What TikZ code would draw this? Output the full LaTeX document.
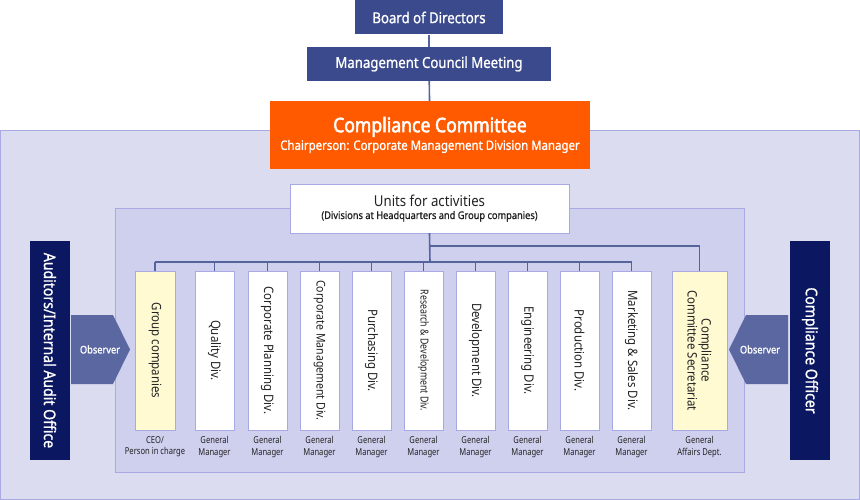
\documentclass[tikz,border=0pt]{standalone}
\usepackage{fontspec}
\setmainfont{Noto Sans}[FakeStretch=0.88]
\usetikzlibrary{positioning}
\definecolor{navy}{HTML}{0C1762}
\definecolor{hdr}{HTML}{3B4A8C}
\definecolor{orng}{HTML}{FF5A00}
\definecolor{outerbg}{HTML}{DCDCF1}
\definecolor{innerbg}{HTML}{CFCFEE}
\definecolor{bdr}{HTML}{A9A9E4}
\definecolor{pale}{HTML}{FFFAD2}
\definecolor{obsfill}{HTML}{5A67A0}
\definecolor{wire}{HTML}{56649E}
\definecolor{ink}{HTML}{222222}
\newcommand{\semib}{\addfontfeature{FakeBold=1}}
\newcommand{\heavy}{\addfontfeature{FakeBold=2.5}}

\tikzset{
  topbox/.style={fill=hdr, text=white, font=\fontsize{15}{17}\selectfont\semib, inner sep=0, minimum height=34},
  colbox/.style={draw=bdr, fill=white, rotate=-90, minimum width=159, minimum height=39, inner sep=0, text=ink, font=\fontsize{13}{14}\selectfont},
  sidebox/.style={fill=navy, text=white, rotate=-90, minimum width=219, minimum height=40, inner sep=0, font=\fontsize{16}{18}\selectfont\semib},
  sub/.style={anchor=north, align=center, text=ink, inner sep=0, font=\fontsize{9.5}{11.5}\selectfont\addfontfeature{FakeStretch=0.8}},
  wirel/.style={draw=wire, line width=1.6pt},
  obs/.style={fill=obsfill},
}

\begin{document}
\begin{tikzpicture}[x=1pt,y=-1pt]
  \useasboundingbox (0,0) rectangle (860,500);
  % frames
  \filldraw[fill=outerbg, draw=bdr] (0.5,130) rectangle (859.5,499.5);
  \filldraw[fill=innerbg, draw=bdr] (115,208) rectangle (744,472);

  % top of the chart
  \node[topbox, minimum width=148] (board) at (429,17.5) {Board of Directors};
  \node[topbox, minimum width=244] (mcm) at (429,64) {Management Council Meeting};
  \node[fill=orng, text=white, minimum width=320, minimum height=68, inner sep=0, align=center] (cc) at (430,135)
    {{\fontsize{20}{24}\selectfont\heavy Compliance Committee}\\[2pt]
     {\fontsize{13}{15}\selectfont\semib Chairperson: Corporate Management Division Manager}};
  \node[draw=bdr, fill=white, minimum width=279, minimum height=49, inner sep=0, align=center, text=ink] (units) at (429.5,208.5)
    {{\fontsize{15}{17}\selectfont Units for activities}\\
     {\fontsize{10.5}{12}\selectfont\semib (Divisions at Headquarters and Group companies)}};

  % divisions
  \node[colbox, fill=pale, minimum height=40] (gc) at (155,350.5) {Group companies};
  \node[colbox] (qd) at (214.5,350.5) {Quality Div.};
  \node[colbox] (cp) at (267.5,350.5) {Corporate Planning Div.};
  \node[colbox, font=\fontsize{12}{13}\selectfont] (cm) at (319.5,350.5) {Corporate Management Div.};
  \node[colbox] (pu) at (371.5,350.5) {Purchasing Div.};
  \node[colbox, font=\fontsize{11}{12}\selectfont\addfontfeature{FakeStretch=0.8}] (rd) at (423.5,350.5) {Research \& Development Div.};
  \node[colbox] (dv) at (475.5,350.5) {Development Div.};
  \node[colbox] (en) at (527.5,350.5) {Engineering Div.};
  \node[colbox] (pr) at (579.5,350.5) {Production Div.};
  \node[colbox] (mk) at (631.5,350.5) {Marketing \& Sales Div.};
  \node[colbox, fill=pale, minimum height=55, align=center] (sec) at (699.5,350.5) {Compliance\\Committee Secretariat};

  % titles under the divisions
  \node[sub] (gct) at ([yshift=-6pt]gc.east) {CEO/\\Person in charge};
  \foreach \c in {qd,cp,cm,pu,rd,dv,en,pr,mk}
    \node[sub] (\c t) at ([yshift=-6pt]\c.east) {General\\Manager};
  \node[sub] (sect) at ([yshift=-6pt]sec.east) {General\\Affairs Dept.};

  % side offices
  \node[sidebox] (aud) at (50,350.5) {Auditors/Internal Audit Office};
  \node[sidebox] (co) at (810,350.5) {Compliance Officer};

  % observer arrows
  \fill[obs] (71,315) -- (113,315) -- (130,349.5) -- (113,384) -- (71,384) -- cycle;
  \node[text=white, font=\fontsize{10.5}{12}\selectfont\semib] (obsl) at (100,349.5) {Observer};
  \fill[obs] (788,315) -- (746,315) -- (729,349.5) -- (746,384) -- (788,384) -- cycle;
  \node[text=white, font=\fontsize{10.5}{12}\selectfont\semib] (obsr) at (760,349.5) {Observer};

  % connectors
  \coordinate (bus) at (430,262);
  \coordinate (bus2) at (430,246);
  \draw[wirel] (board) -- (mcm);
  \draw[wirel] (mcm) -- (cc);
  \draw[wirel] (units.south) -- (bus);
  \draw[wirel] (gc.west |- bus) -- (mk.west |- bus);
  \foreach \c in {gc,qd,cp,cm,pu,rd,dv,en,pr,mk}
    \draw[wirel] (\c.west |- bus) -- (\c.west);
  \draw[wirel] (bus2) -| (sec.west);
\end{tikzpicture}
\end{document}
